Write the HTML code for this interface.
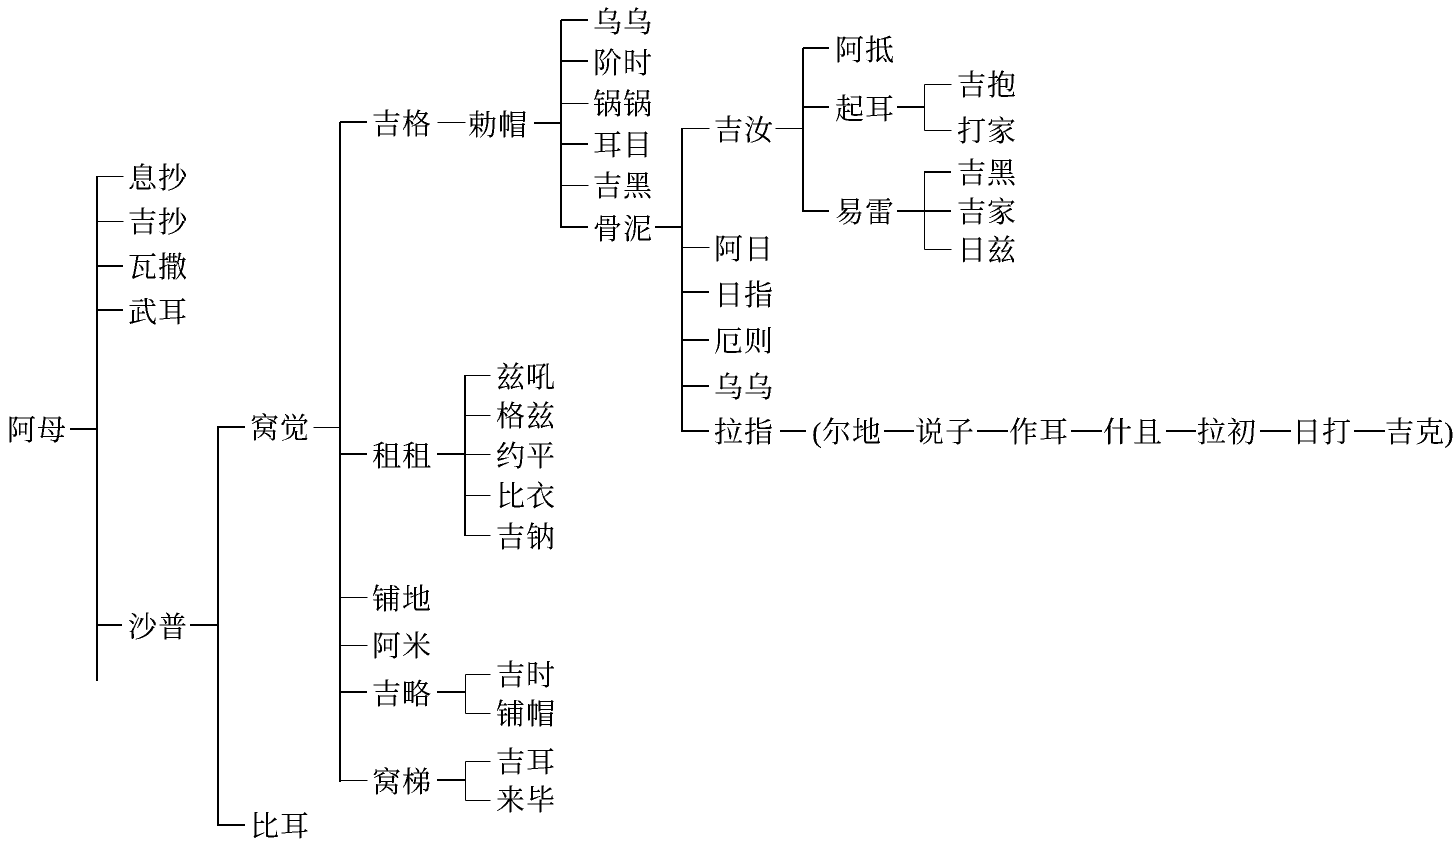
<!DOCTYPE html>
<html lang="zh"><head><meta charset="utf-8"><style>
html,body{margin:0;padding:0;background:#fff;width:1456px;height:843px;overflow:hidden}
svg{display:block}
text{font-family:"Liberation Serif","Noto Serif CJK SC",serif;font-size:29px;letter-spacing:1px;fill:#000}
</style></head><body>
<svg width="1456" height="843" viewBox="0 0 1456 843" xmlns="http://www.w3.org/2000/svg">
<defs><filter id="bw" x="0" y="0" width="100%" height="100%" color-interpolation-filters="sRGB"><feComponentTransfer><feFuncR type="discrete" tableValues="0 0 0 1 1"/><feFuncG type="discrete" tableValues="0 0 0 1 1"/><feFuncB type="discrete" tableValues="0 0 0 1 1"/></feComponentTransfer></filter></defs>
<g filter="url(#bw)">
<rect x="0" y="0" width="1456" height="843" fill="#fff"/>
<g fill="none" stroke="#000" shape-rendering="crispEdges">
<path stroke-width="2" d="M97 176V681M218 426V826M340 122V782M561 20V228M682 128V432M803 48V212M465 375V536"/>
<path stroke-width="2" d="M97 266H123M97 310H123M70 429H97M97 625H122M190 625H218M218 427H245M218 825H245M340 122H367M340 454H367M340 692H367M534 123H561M561 20H588M561 61H588M561 144H588M561 227H588M655 227H682M682 292H709M682 340H709M682 386H709M682 431H709M803 48H829M803 107H829M803 211H829M897 107H924M897 211H924M924 172H951M924 211H951M437 454H465M437 692H465M437 780H465M780 431H806M884 431H914M977 431H1008M1071 431H1102M1166 431H1196M1260 431H1291M1354 431H1385"/>
</g>
<g fill="none" stroke="#000" stroke-width="1" shape-rendering="crispEdges" transform="translate(0.5 0.5)">
<path d="M97 176H123M97 221H123M313 427H340M340 597H367M340 645H367M340 780H367M437 122H465M561 103H588M561 185H588M682 128H709M682 247H709M775 128H803M924 84V130M924 84H951M924 130H951M924 172V249M924 249H951M465 375H490M465 415H490M465 454H490M465 495H490M465 535H490M465 674V713M465 674H490M465 713H490M465 761V800M465 761H490M465 800H490"/>
</g>
<text x="7" y="440">阿母</text>
<text x="128" y="188">息抄</text>
<text x="128" y="232">吉抄</text>
<text x="128" y="277">瓦撒</text>
<text x="128" y="322">武耳</text>
<text x="128" y="637">沙普</text>
<text x="250" y="438">窝觉</text>
<text x="250" y="836">比耳</text>
<text x="372" y="134">吉格</text>
<text x="468" y="135">勅帽</text>
<text x="372" y="466">租租</text>
<text x="372" y="609">铺地</text>
<text x="372" y="656">阿米</text>
<text x="372" y="704">吉略</text>
<text x="372" y="792">窝梯</text>
<text x="496" y="387">兹吼</text>
<text x="496" y="426">格兹</text>
<text x="496" y="466">约平</text>
<text x="496" y="506">比衣</text>
<text x="496" y="547">吉钠</text>
<text x="496" y="685">吉时</text>
<text x="496" y="724">铺帽</text>
<text x="496" y="772">吉耳</text>
<text x="496" y="810">来毕</text>
<text x="593" y="32">乌乌</text>
<text x="593" y="73">阶时</text>
<text x="593" y="114">锅锅</text>
<text x="593" y="155">耳目</text>
<text x="593" y="196">吉黑</text>
<text x="593" y="239">骨泥</text>
<text x="714" y="140">吉汝</text>
<text x="714" y="259">阿日</text>
<text x="714" y="305">日指</text>
<text x="714" y="351">厄则</text>
<text x="714" y="397">乌乌</text>
<text x="714" y="442">拉指</text>
<text x="835" y="60">阿抵</text>
<text x="835" y="119">起耳</text>
<text x="835" y="222">易雷</text>
<text x="957" y="95">吉抱</text>
<text x="957" y="141">打家</text>
<text x="957" y="183">吉黑</text>
<text x="957" y="222">吉家</text>
<text x="957" y="260">日兹</text>
<text x="812" y="442">(</text>
<text x="822" y="442">尔地</text>
<text x="915" y="442">说子</text>
<text x="1009" y="442">作耳</text>
<text x="1103" y="442">什且</text>
<text x="1197" y="442">拉初</text>
<text x="1292" y="442">日打</text>
<text x="1385" y="442">吉克</text>
<text x="1444" y="442">)</text>
</g>
</svg>
</body></html>
